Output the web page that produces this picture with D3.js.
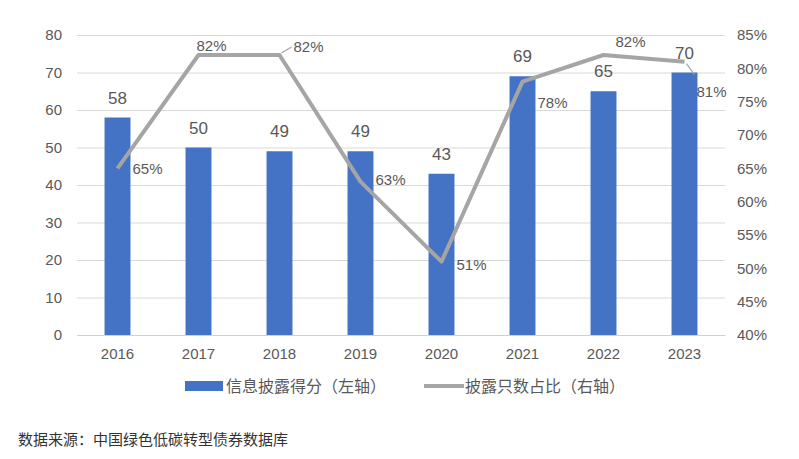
<!DOCTYPE html>
<html>
<head>
<meta charset="utf-8">
<script src="https://cdn.jsdelivr.net/npm/d3@7"></script>
<style>
  body { margin: 0; background: #fff; }
  text { font-family: "Liberation Sans", Arial, "Noto Sans CJK SC", sans-serif; }
  .cjk { font-family: "Noto Sans CJK SC", sans-serif; }
</style>
</head>
<body>
<div id="chart"></div>
<script>
// data
const years = ["2016", "2017", "2018", "2019", "2020", "2021", "2022", "2023"];
const scores = [58, 50, 49, 49, 43, 69, 65, 70];          // 信息披露得分（左轴）
const ratios = [0.65, 0.82, 0.82, 0.63, 0.51, 0.78, 0.82, 0.81]; // 披露只数占比（右轴）
const leftTicks = [0, 10, 20, 30, 40, 50, 60, 70, 80];
const rightTicks = [0.40, 0.45, 0.50, 0.55, 0.60, 0.65, 0.70, 0.75, 0.80, 0.85];

// label placement for the line labels (offset from the point)
const labelPos = [
  { dx: 15, dy: 0, anchor: "start" },
  { dx: 13, dy: -9, anchor: "middle" },
  { dx: 14, dy: -8, anchor: "start", leader: true },
  { dx: 15, dy: -2, anchor: "start" },
  { dx: 15, dy: 3, anchor: "start" },
  { dx: 15, dy: 21, anchor: "start" },
  { dx: 27, dy: -13, anchor: "middle" },
  { dx: 12, dy: 30, anchor: "start", leader: true }
];

const width = 799, height = 459;
const margin = { top: 35, right: 74, bottom: 124, left: 77 };
const textColor = "#595959";

const svg = d3.select("#chart").append("svg")
  .attr("width", width)
  .attr("height", height);

const x = d3.scaleBand()
  .domain(years)
  .range([margin.left, width - margin.right])
  .paddingInner(0.68)
  .paddingOuter(0.34);

const y = d3.scaleLinear()
  .domain([0, 80])
  .range([height - margin.bottom, margin.top]);

const yR = d3.scaleLinear()
  .domain([0.40, 0.85])
  .range([height - margin.bottom, margin.top]);

const cx = d => x(d) + x.bandwidth() / 2;

// gridlines
svg.append("g")
  .attr("transform", `translate(${margin.left},0)`)
  .call(d3.axisRight(y).tickValues(leftTicks).tickSize(width - margin.right - margin.left).tickFormat(""))
  .call(g => g.select(".domain").remove())
  .call(g => g.selectAll(".tick line").attr("stroke", "#d9d9d9").attr("stroke-width", 1));

// bottom axis line
svg.append("g")
  .attr("transform", `translate(0,${y(0)})`)
  .call(d3.axisBottom(x).tickSize(0).tickFormat(""))
  .call(g => g.select(".domain").attr("stroke", "#d0d0d0"));

// left axis labels
svg.append("g")
  .attr("transform", `translate(${margin.left - 15},0)`)
  .call(d3.axisLeft(y).tickValues(leftTicks).tickSize(0))
  .call(g => g.select(".domain").remove())
  .call(g => g.selectAll("text").attr("fill", textColor).attr("font-size", 15).attr("x", 0));

// right axis labels
svg.append("g")
  .attr("transform", `translate(${width - margin.right + 12},0)`)
  .call(d3.axisRight(yR).tickValues(rightTicks).tickSize(0).tickFormat(d3.format(".0%")))
  .call(g => g.select(".domain").remove())
  .call(g => g.selectAll("text").attr("fill", textColor).attr("font-size", 15).attr("x", 0));

// x labels
svg.append("g")
  .attr("transform", `translate(0,${y(0) + 10})`)
  .call(d3.axisBottom(x).tickSize(0))
  .call(g => g.select(".domain").remove())
  .call(g => g.selectAll("text").attr("fill", textColor).attr("font-size", 15));

// bars
svg.selectAll("rect.bar")
  .data(scores)
  .enter()
  .append("rect")
  .attr("class", "bar")
  .attr("x", (d, i) => x(years[i]))
  .attr("y", d => y(d))
  .attr("width", x.bandwidth())
  .attr("height", d => y(0) - y(d))
  .attr("fill", "#4472c4");

// bar labels
svg.selectAll("text.barlabel")
  .data(scores)
  .enter()
  .append("text")
  .attr("class", "barlabel")
  .attr("x", (d, i) => cx(years[i]))
  .attr("y", d => y(d) - 14)
  .attr("text-anchor", "middle")
  .attr("fill", textColor)
  .attr("font-size", 17)
  .text(d => d);

// line
const line = d3.line()
  .x((d, i) => cx(years[i]))
  .y(d => yR(d));

svg.append("path")
  .datum(ratios)
  .attr("d", line)
  .attr("fill", "none")
  .attr("stroke", "#a5a5a5")
  .attr("stroke-width", 4)
  .attr("stroke-linejoin", "round");

// leader lines
ratios.forEach((d, i) => {
  const p = labelPos[i];
  if (!p.leader) return;
  const px = cx(years[i]), py = yR(d);
  svg.append("line")
    .attr("x1", px + 2).attr("y1", py + Math.sign(p.dy) * 2)
    .attr("x2", px + p.dx - 2).attr("y2", py + p.dy - (p.dy > 10 ? 17 : 0))
    .attr("stroke", "#a5a5a5")
    .attr("stroke-width", 1.2);
});

// line labels
svg.selectAll("text.linelabel")
  .data(ratios)
  .enter()
  .append("text")
  .attr("class", "linelabel")
  .attr("x", (d, i) => cx(years[i]) + labelPos[i].dx)
  .attr("y", (d, i) => yR(d) + labelPos[i].dy)
  .attr("dy", "0.35em")
  .attr("text-anchor", (d, i) => labelPos[i].anchor)
  .attr("fill", textColor)
  .attr("font-size", 15)
  .text(d => d3.format(".0%")(d));

// legend
const legend = svg.append("g").attr("transform", "translate(0,386)");
legend.append("rect")
  .attr("x", 185).attr("y", -5)
  .attr("width", 38).attr("height", 10)
  .attr("fill", "#4472c4");
legend.append("text")
  .attr("class", "cjk")
  .attr("x", 226).attr("y", 0).attr("dy", "0.35em")
  .attr("fill", textColor).attr("font-size", 16)
  .text("信息披露得分（左轴）");
legend.append("line")
  .attr("x1", 424).attr("x2", 464)
  .attr("y1", 0).attr("y2", 0)
  .attr("stroke", "#a5a5a5").attr("stroke-width", 4);
legend.append("text")
  .attr("class", "cjk")
  .attr("x", 465).attr("y", 0).attr("dy", "0.35em")
  .attr("fill", textColor).attr("font-size", 16)
  .text("披露只数占比（右轴）");

// source
svg.append("text")
  .attr("class", "cjk")
  .attr("x", 18).attr("y", 440).attr("dy", "0.35em")
  .attr("fill", "#333")
  .attr("font-size", 15)
  .text("数据来源：中国绿色低碳转型债券数据库");
</script>
</body>
</html>
